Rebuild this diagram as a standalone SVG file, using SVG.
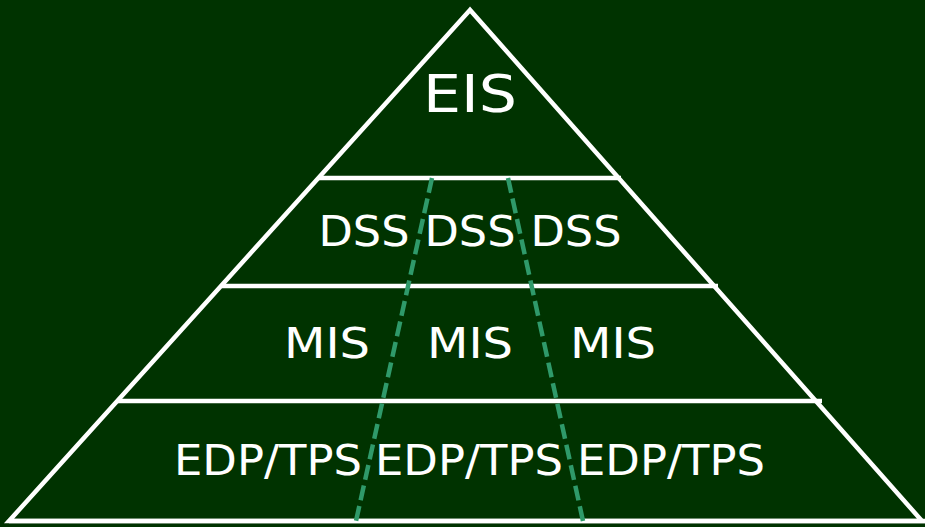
<svg xmlns="http://www.w3.org/2000/svg" width="925" height="527" viewBox="0 0 925 527">
<style>
.edge{stroke:#ffffff;stroke-width:4.5;fill:none;stroke-linejoin:miter;stroke-linecap:butt}
.div{stroke:#2f9a6a;stroke-width:4.5;stroke-dasharray:15 6;fill:none}
.t{fill:#ffffff;font-family:"DejaVu Sans","Verdana",sans-serif;font-size:42px;text-anchor:middle}
.big{font-size:52px}
</style>
<rect width="925" height="527" fill="#003300"/>
<g id="pyramid">
<polygon class="edge" points="470,10 9,521 922,521"/>
<line class="edge" x1="9" y1="521" x2="925" y2="521"/>
</g>
<g id="level-lines">
<line class="edge" x1="319" y1="178" x2="621" y2="178"/>
<line class="edge" x1="222" y1="286" x2="718" y2="286"/>
<line class="edge" x1="118" y1="401" x2="822" y2="401"/>
</g>
<g id="connectors">
<line class="div" x1="432" y1="178" x2="356" y2="521"/>
<line class="div" x1="508" y1="178" x2="583" y2="521"/>
</g>
<g id="eis"><text class="t big" x="470" y="112" textLength="94" lengthAdjust="spacingAndGlyphs">EIS</text></g>
<g id="dss-1"><text class="t" x="364" y="246" textLength="91" lengthAdjust="spacingAndGlyphs">DSS</text></g>
<g id="dss-2"><text class="t" x="470" y="246" textLength="91" lengthAdjust="spacingAndGlyphs">DSS</text></g>
<g id="dss-3"><text class="t" x="576" y="246" textLength="91" lengthAdjust="spacingAndGlyphs">DSS</text></g>
<g id="mis-1"><text class="t" x="327" y="358" textLength="86" lengthAdjust="spacingAndGlyphs">MIS</text></g>
<g id="mis-2"><text class="t" x="470" y="358" textLength="86" lengthAdjust="spacingAndGlyphs">MIS</text></g>
<g id="mis-3"><text class="t" x="613" y="358" textLength="86" lengthAdjust="spacingAndGlyphs">MIS</text></g>
<g id="edp-1"><text class="t" x="268" y="475" textLength="188" lengthAdjust="spacingAndGlyphs">EDP/TPS</text></g>
<g id="edp-2"><text class="t" x="469" y="475" textLength="188" lengthAdjust="spacingAndGlyphs">EDP/TPS</text></g>
<g id="edp-3"><text class="t" x="671" y="475" textLength="188" lengthAdjust="spacingAndGlyphs">EDP/TPS</text></g>
</svg>
